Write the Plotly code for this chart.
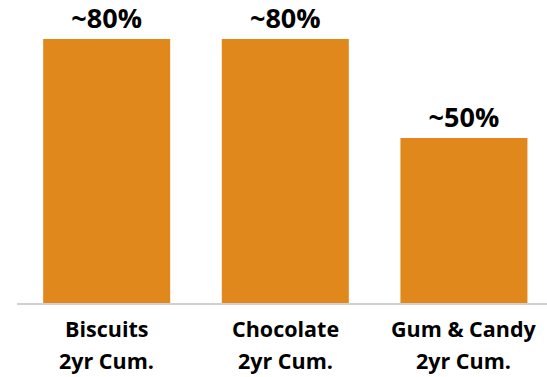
import plotly.graph_objects as go

names = ["Biscuits", "Chocolate", "Gum & Candy"]
subtitles = ["2yr Cum.", "2yr Cum.", "2yr Cum."]
values = [80, 80, 50]
labels = ["~80%", "~80%", "~50%"]

fig = go.Figure(go.Bar(
    x=names, y=values, text=labels, textposition="outside",
    marker=dict(color="#E0881C", line=dict(width=0)),
    textfont=dict(family="Open Sans", size=27, color="#000000", weight="bold"),
    cliponaxis=False, width=0.711,
))

lab_font = dict(family="Open Sans", size=21.5, color="#000000", weight="bold")
for n, s in zip(names, subtitles):
    fig.add_annotation(x=n, xref="x", y=0, yref="paper", text=n, showarrow=False,
                       xanchor="center", yanchor="middle", yshift=-25, font=lab_font)
    fig.add_annotation(x=n, xref="x", y=0, yref="paper", text=s, showarrow=False,
                       xanchor="center", yanchor="middle", yshift=-57, font=lab_font)

fig.update_layout(
    width=547, height=377,
    margin=dict(l=17, r=0, t=0, b=74),
    plot_bgcolor="white", paper_bgcolor="white",
    showlegend=False,
)
fig.update_xaxes(
    range=[-0.502, 2.465],
    showline=True, linecolor="#D0D0D0", linewidth=1.5,
    showticklabels=False, ticks="",
)
fig.update_yaxes(range=[0, 91.8], visible=False, showgrid=False)
fig.write_html("out.html")
